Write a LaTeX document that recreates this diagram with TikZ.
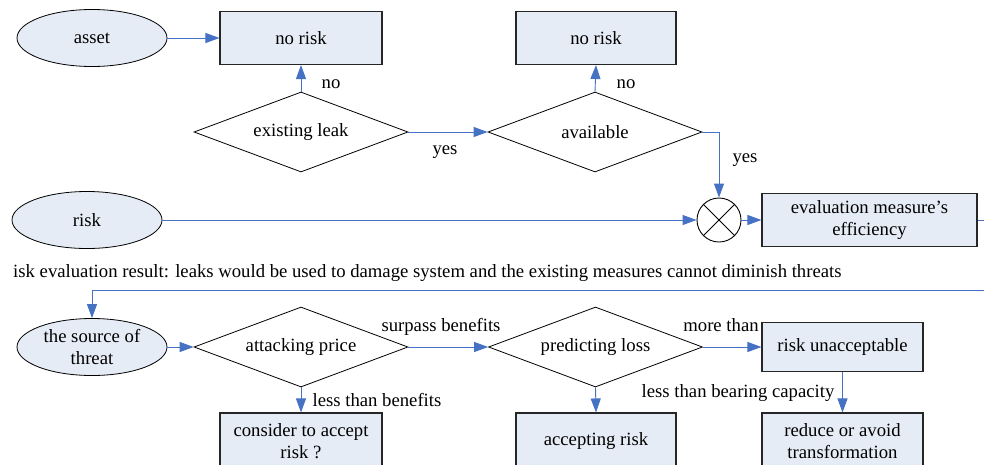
\documentclass[tikz,border=0pt]{standalone}
\usepackage{fontspec}
\setmainfont{Liberation Serif}
\usetikzlibrary{shapes.geometric,arrows.meta}
\definecolor{lineblue}{RGB}{70,114,196}
\definecolor{boxfill}{RGB}{230,236,246}
\tikzset{
  txt/.style={font=\fontsize{18.7}{22.5}\selectfont, text=black},
  procbox/.style={txt, draw=black!85, line width=1.1pt, fill=boxfill, rectangle, inner sep=0pt, align=center},
  oval/.style={txt, draw=black, line width=0.8pt, fill=boxfill, ellipse, inner sep=0pt, minimum width=150pt, minimum height=57pt, align=center},
  decide/.style={txt, draw=black, line width=0.8pt, fill=white, diamond, inner sep=0pt, aspect=2.675, minimum width=214pt, minimum height=80pt},
  flow/.style={draw=lineblue, line width=0.9pt, -{Triangle[length=14pt,width=10pt]}},
  plain/.style={draw=lineblue, line width=0.9pt},
  lbl/.style={txt, inner sep=0pt}
}
\begin{document}
\begin{tikzpicture}[x=1pt,y=-1pt]
\clip (0,0) rectangle (984,464);
\fill[white] (0,0) rectangle (984,464);
% row 1
\node[oval] (asset) at (92,38) {asset};
\node[procbox, minimum width=162pt, minimum height=53pt] (nr1) at (301,38) {no risk};
\node[decide] (leak) at (301,132) {existing leak};
\node[decide] (avail) at (595,132) {available};
\node[procbox, minimum width=160pt, minimum height=53pt] (nr2) at (596,38) {no risk};
% row 2
\node[oval] (risk) at (87,220) {risk};
\node[draw=black, line width=0.9pt, fill=white, circle, minimum size=44pt, inner sep=0pt] (cross) at (719,220) {};
\draw[line width=0.9pt] (cross.north west) -- (cross.south east) (cross.north east) -- (cross.south west);
\node[procbox, minimum width=215pt, minimum height=53pt] (eval) at (869.5,220) {evaluation measure's\\efficiency};
\coordinate (exit1) at (986,220);
\coordinate (exit2) at (986,290);
\node[lbl, anchor=base west] (result) at (13,277) {isk evaluation result: leaks would be used to damage system and the existing measures cannot diminish threats};
% row 3
\node[oval] (source) at (92,347) {the source of\\threat};
\node[decide] (attack) at (301,347) {attacking price};
\node[decide] (predict) at (595.5,347) {predicting loss};
\node[procbox, minimum width=161pt, minimum height=49pt] (unacc) at (842.5,347) {risk unacceptable};
\node[procbox, minimum width=162pt, minimum height=56pt] (consider) at (301,441) {consider to accept\\risk ?};
\node[procbox, minimum width=160pt, minimum height=56pt] (accept) at (596,441) {accepting risk};
\node[procbox, minimum width=161pt, minimum height=56pt] (reduce) at (842.5,441) {reduce or avoid\\transformation};
% connectors
\draw[flow] (asset.east) -- (nr1.west);
\draw[flow] (leak.north) -- (nr1.south);
\draw[flow] (leak.east) -- (avail.west);
\draw[flow] (avail.north) -- (nr2.south);
\draw[flow] (avail.east) -| (cross.north);
\draw[flow] (risk.east) -- (cross.west);
\draw[flow] (cross.east) -- (eval.west);
\draw[plain] (eval.east) -- (exit1);
\draw[flow] (exit2) -| (source.north);
\draw[flow] (source.east) -- (attack.west);
\draw[flow] (attack.east) -- (predict.west);
\draw[flow] (attack.south) -- (consider.north);
\draw[flow] (predict.east) -- (unacc.west);
\draw[flow] (predict.south) -- (accept.north);
\draw[flow] (unacc.south) -- (reduce.north);
% labels
\node[lbl] (l1) at (331,84) {no};
\node[lbl] (l2) at (445,152) {yes};
\node[lbl] (l3) at (626,84) {no};
\node[lbl] (l4) at (745,160) {yes};
\node[lbl] (l5) at (441,327) {surpass benefits};
\node[lbl] (l6) at (377,400) {less than benefits};
\node[lbl] (l7) at (721,325) {more than};
\node[lbl] (l8) at (738,393) {less than bearing capacity};
\end{tikzpicture}
\end{document}
